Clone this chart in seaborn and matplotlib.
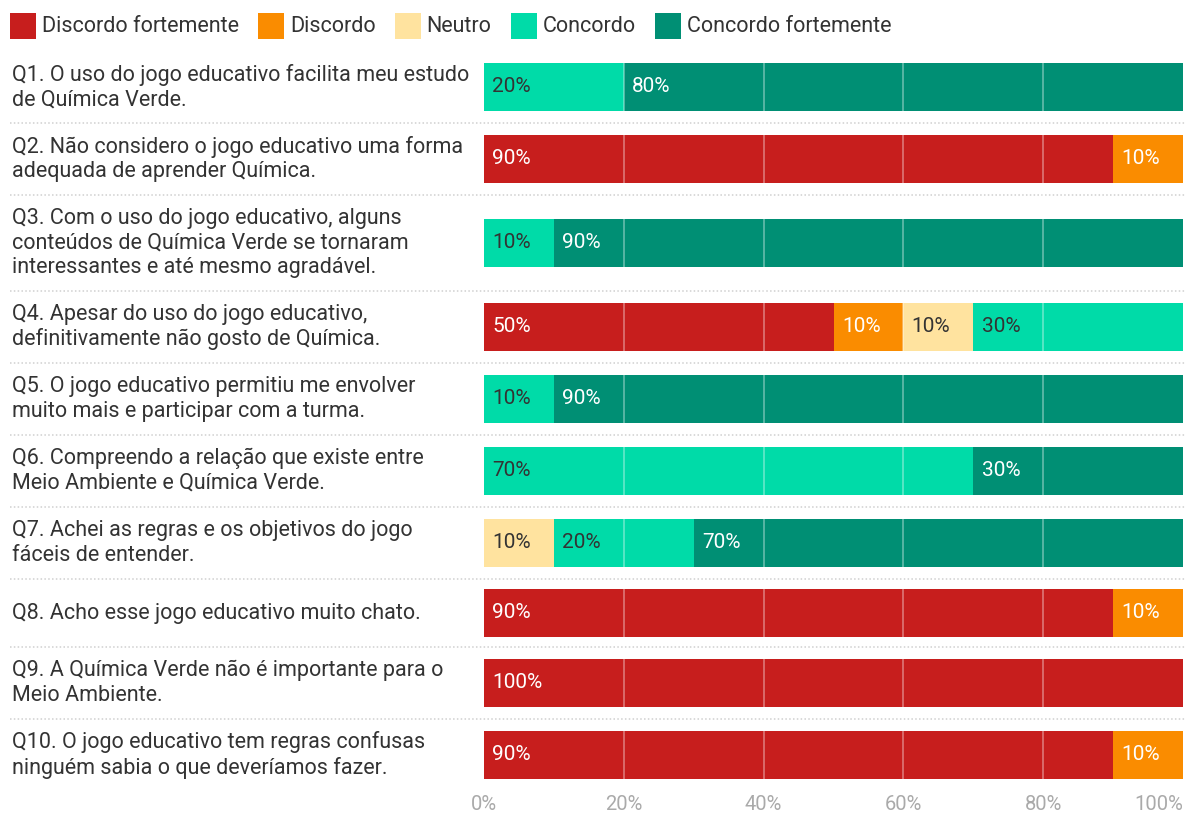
import numpy as np
import pandas as pd
import matplotlib
matplotlib.use("Agg")
import matplotlib.pyplot as plt
import matplotlib.transforms as mtransforms
from matplotlib.lines import Line2D
from matplotlib.patches import Rectangle
import seaborn as sns

questions = [
    "Q1. O uso do jogo educativo facilita meu estudo\nde Química Verde.",
    "Q2. Não considero o jogo educativo uma forma\nadequada de aprender Química.",
    "Q3. Com o uso do jogo educativo, alguns\nconteúdos de Química Verde se tornaram\ninteressantes e até mesmo agradável.",
    "Q4. Apesar do uso do jogo educativo,\ndefinitivamente não gosto de Química.",
    "Q5. O jogo educativo permitiu me envolver\nmuito mais e participar com a turma.",
    "Q6. Compreendo a relação que existe entre\nMeio Ambiente e Química Verde.",
    "Q7. Achei as regras e os objetivos do jogo\nfáceis de entender.",
    "Q8. Acho esse jogo educativo muito chato.",
    "Q9. A Química Verde não é importante para o\nMeio Ambiente.",
    "Q10. O jogo educativo tem regras confusas\nninguém sabia o que deveríamos fazer.",
]
categories = ["Discordo fortemente", "Discordo", "Neutro", "Concordo", "Concordo fortemente"]
discordo_fortemente = [0, 90, 0, 50, 0, 0, 0, 90, 100, 90]
discordo = [0, 10, 0, 10, 0, 0, 0, 10, 0, 10]
neutro = [0, 0, 0, 10, 0, 0, 10, 0, 0, 0]
concordo = [20, 0, 10, 30, 10, 70, 20, 0, 0, 0]
concordo_fortemente = [80, 0, 90, 0, 90, 30, 70, 0, 0, 0]
tick_values = [0, 20, 40, 60, 80, 100]
tick_labels = ["0%", "20%", "40%", "60%", "80%", "100%"]

colors = ["#c71e1d", "#fa8c00", "#ffe39f", "#00dba8", "#008f74"]
text_colors = ["white", "white", "#333333", "#333333", "white"]

series = [discordo_fortemente, discordo, neutro, concordo, concordo_fortemente]
df = pd.DataFrame({c: s for c, s in zip(categories, series)})
df["question"] = questions

# layout: row heights from number of label lines (pixel units)
W, H = 1185, 814
lines = np.array([q.count("\n") + 1 for q in questions])
row_h = np.maximum(lines * 24 + 24, 68)
edges = np.concatenate([[0], np.cumsum(row_h)])
centers = (edges[:-1] + edges[1:]) / 2
total = edges[-1]
bar_h = 48

plt.rcParams["font.family"] = ["Roboto", "DejaVu Sans"]
fig = plt.figure(figsize=(W / 100, H / 100), dpi=100)
top_px, left_px, right_px = 51, 484, 1183
ax = fig.add_axes([left_px / W, 1 - (top_px + total) / H, (right_px - left_px) / W, total / H])

df["pos"] = centers
cum = df[categories].cumsum(axis=1)
width_rel = bar_h / np.min(np.diff(centers))
for i in range(len(categories) - 1, -1, -1):
    sns.barplot(x=cum[categories[i]].values, y=df["pos"].values, orient="h",
                native_scale=True, width=width_rel, color=colors[i],
                linewidth=0, saturation=1, ax=ax, zorder=2)

ax.set_xlim(0, 100)
ax.set_ylim(total, 0)

# white gridlines over bars
for x in [20, 40, 60, 80]:
    ax.axvline(x, color="white", alpha=0.4, lw=1.2, zorder=4)

# value labels
starts = cum.values - df[categories].values
for r in range(len(questions)):
    for i, c in enumerate(categories):
        v = df[c].iloc[r]
        if v > 0:
            ax.annotate(f"{v}%", xy=(starts[r, i], centers[r]), xytext=(6, 0),
                        textcoords="offset points", ha="left", va="center",
                        fontsize=15, color=text_colors[i], zorder=5)

# question labels & dotted separators
trans = mtransforms.blended_transform_factory(fig.transFigure, ax.transData)
for r, q in enumerate(questions):
    ax.text(12 / W, centers[r], q, transform=trans, ha="left", va="center",
            fontsize=15.5, color="#333333", linespacing=1.22)
for e in edges[1:-1]:
    ax.add_line(Line2D([10 / W, 1.0], [e, e], transform=trans, color="#d0d0d0",
                       lw=1.1, ls=(0, (1, 1.5)), clip_on=False))

# axes styling
for s in ax.spines.values():
    s.set_visible(False)
ax.set_yticks([])
ax.set_xticks(tick_values)
ax.set_xticklabels(tick_labels)
ax.tick_params(axis="x", length=0, pad=3, labelsize=14.5, labelcolor="#aaaaaa")
ax.get_xticklabels()[-1].set_ha("right")
ax.set_xlabel("")
ax.set_ylabel("")

# legend (manual, measured text widths)
renderer = fig.canvas.get_renderer()
x_px = 10
sq_w, sq_h, legend_cy = 26, 26, 26
for c, col in zip(categories, colors):
    fig.add_artist(Rectangle((x_px / W, 1 - (legend_cy + sq_h / 2) / H), sq_w / W, sq_h / H,
                             transform=fig.transFigure, facecolor=col, edgecolor="none"))
    t = fig.text((x_px + sq_w + 6) / W, 1 - legend_cy / H, c, ha="left", va="center",
                 fontsize=15.5, color="#333333")
    tw = t.get_window_extent(renderer=renderer).width
    x_px = x_px + sq_w + 6 + tw + 19

fig.savefig("out.png", dpi=100, facecolor="white")
